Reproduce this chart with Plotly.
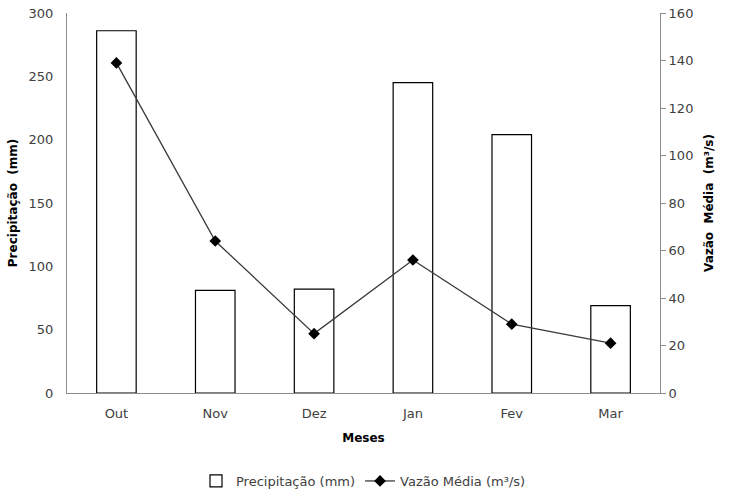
import plotly.graph_objects as go

meses = ["Out", "Nov", "Dez", "Jan", "Fev", "Mar"]
precipitacao = [286, 81, 82, 245, 204, 69]
vazao_media = [139, 64, 25, 56, 29, 21]

FONT = "DejaVu Sans, Verdana, sans-serif"
TXT = "#404040"
AX = "#8c8c8c"

fig = go.Figure()

fig.add_trace(go.Bar(
    x=meses, y=precipitacao, name="Precipitação (mm)",
    marker=dict(color="white", line=dict(color="black", width=1.2)),
    width=0.4, yaxis="y",
))

fig.add_trace(go.Scatter(
    x=meses, y=vazao_media, name="Vazão Média (m³/s)",
    mode="lines+markers",
    line=dict(color="#3a3a3a", width=1.3),
    marker=dict(symbol="diamond", size=9, color="black"),
    yaxis="y2",
))

fig.update_layout(
    width=740, height=496,
    margin=dict(l=67, r=80, t=13, b=103, autoexpand=False),
    paper_bgcolor="white", plot_bgcolor="white",
    font=dict(family=FONT, size=12, color=TXT),
    showlegend=True,
    legend=dict(
        orientation="h", x=0.5, xanchor="center",
        yref="container", y=-0.012, yanchor="bottom",
        font=dict(size=13, color=TXT), traceorder="normal",
        itemwidth=30,
    ),
    xaxis=dict(
        type="category", range=[-0.5, 5.5],
        showline=True, linecolor=AX, linewidth=1,
        ticks="", showgrid=False,
        tickfont=dict(size=13, color=TXT),
        ticklabelstandoff=8,
        title=dict(text="<b>Meses</b>", font=dict(size=12, color="black"), standoff=14),
    ),
    yaxis=dict(
        range=[0, 300], dtick=50,
        showline=True, linecolor=AX, linewidth=1,
        ticks="", showgrid=False, zeroline=False,
        tickfont=dict(size=13, color=TXT),
        ticklabelstandoff=10,
        title=dict(text="<b>Precipitação  (mm)</b>", font=dict(size=12, color="black"), standoff=8),
    ),
    yaxis2=dict(
        range=[0, 160], dtick=20, overlaying="y", side="right",
        showline=True, linecolor=AX, linewidth=1,
        ticks="outside", ticklen=5, tickcolor=AX,
        showgrid=False, zeroline=False,
        tickfont=dict(size=13, color=TXT),
        title=dict(text="<b>Vazão  Média  (m³/s)</b>", font=dict(size=12, color="black"), standoff=12),
    ),
    bargap=0.6,
)

fig.write_html("out.html")
